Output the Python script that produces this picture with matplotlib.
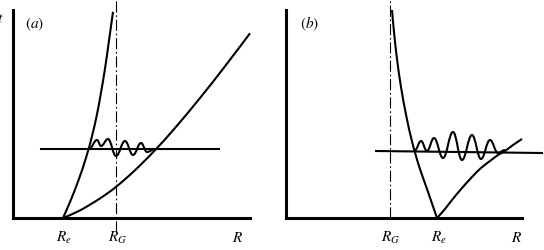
import matplotlib
matplotlib.use("Agg")
import matplotlib.pyplot as plt
from matplotlib.path import Path
from matplotlib.patches import PathPatch

plt.rcParams["mathtext.fontset"] = "stix"
plt.rcParams["font.family"] = "STIXGeneral"

# schematic values (x = R, y = energy, arbitrary units)
# panel (a)
a_steep_x = [50, 58, 66, 73, 79, 84, 88, 92, 96, 100]
a_steep_y = [0, 18.4, 39.2, 60.2, 81.8, 103.8, 125.4, 149.4, 177.4, 206.2]
a_low_x = [50, 67, 87, 103, 122, 142, 162, 187, 212, 237]
a_low_y = [0, 7.6, 19.6, 31.1, 47.8, 67.8, 90, 120, 151.7, 184.7]
a_level_x = [28, 206]
a_level_y = [69, 69]
# wave: start, turning points, end
a_wave_x = [76, 84, 88, 95, 103, 112, 120, 128, 134, 142]
a_wave_y = [69, 78, 72, 79, 62, 77, 63, 75, 66, 69]
a_RG = 102.5
a_ticks = [51, 105, 225]
a_labels = [r"$R_e$", r"$R_G$", r"$R$"]

# panel (b)
b_steep_x = [106, 108, 111, 115, 120, 126, 133, 141, 151]
b_steep_y = [208, 186, 159, 131, 103.5, 76.5, 52, 29, 0]
b_right_x = [151, 159, 166, 176, 186, 195, 204, 212, 219, 227, 236]
b_right_y = [0, 9, 18, 30, 41, 50, 57, 63, 67, 73, 79]
b_level_x = [90, 256]
b_level_y = [67, 65]
b_wave_x = [129, 135, 141, 148, 157, 167, 176, 186, 195, 204, 212, 219]
b_wave_y = [68, 77, 67, 80, 60, 86, 58, 83, 59, 78, 65, 68]
b_RG = 104
b_ticks = [105, 153, 231]
b_labels = [r"$R_G$", r"$R_e$", r"$R$"]

W, H = 544, 250
fig = plt.figure(figsize=(W / 100, H / 100), dpi=100)

axes_lw = 2.2
curve_lw = 1.5


def smooth(ax, xs, ys, flat=False):
    # cubic bezier through the points; flat=True keeps tangents horizontal
    verts = [(xs[0], ys[0])]
    codes = [Path.MOVETO]
    n = len(xs)
    for i in range(n - 1):
        x0, y0, x1, y1 = xs[i], ys[i], xs[i + 1], ys[i + 1]
        if flat:
            k = 0.4 * (x1 - x0)
            c1, c2 = (x0 + k, y0), (x1 - k, y1)
        else:
            xp, yp = (xs[i - 1], ys[i - 1]) if i > 0 else (x0, y0)
            xn, yn = (xs[i + 2], ys[i + 2]) if i + 2 < n else (x1, y1)
            c1 = (x0 + (x1 - xp) / 6, y0 + (y1 - yp) / 6)
            c2 = (x1 - (xn - x0) / 6, y1 - (yn - y0) / 6)
        verts += [c1, c2, (x1, y1)]
        codes += [Path.CURVE4] * 3
    ax.add_patch(PathPatch(Path(verts, codes), fill=False, lw=curve_lw,
                           edgecolor="black", clip_on=False, joinstyle="round"))


def make_axes(left_px, width_px):
    ax = fig.add_axes([left_px / W, (H - 218) / H, width_px / W, 218 / H])
    ax.set_xlim(0, width_px)
    ax.set_ylim(0, 218)
    for s in ["top", "right"]:
        ax.spines[s].set_visible(False)
    ax.spines["left"].set_linewidth(axes_lw)
    ax.spines["bottom"].set_linewidth(axes_lw)
    ax.spines["left"].set_bounds(0, 208)
    ax.set_xticks([])
    ax.set_yticks([])
    ax.patch.set_alpha(0)
    return ax


def panel(ax, curves, level_x, level_y, wave_x, wave_y, rg, y0, ticks, labels, tag):
    for cx, cy in curves:
        smooth(ax, cx, cy)
    ax.plot(level_x, level_y, color="black", lw=curve_lw, clip_on=False)
    smooth(ax, wave_x, wave_y, flat=True)
    ax.plot([rg, rg], [y0, 218], color="black", lw=0.8, clip_on=False,
            dashes=(10, 2.5, 1.5, 2.5))
    for t, lab in zip(ticks, labels):
        ax.text(t, -20, lab, ha="center", va="center", fontsize=11, clip_on=False)
    ax.text(tag[0], tag[1], tag[2], ha="center", va="center", fontsize=11)


ax1 = make_axes(13, 237)
panel(ax1, [(a_steep_x, a_steep_y), (a_low_x, a_low_y)], a_level_x, a_level_y,
      a_wave_x, a_wave_y, a_RG, -14, a_ticks, a_labels, (22, 194, r"$(a)$"))

ax2 = make_axes(286, 236)
panel(ax2, [(b_steep_x, b_steep_y), (b_right_x, b_right_y)], b_level_x, b_level_y,
      b_wave_x, b_wave_y, b_RG, 0, b_ticks, b_labels, (24, 194, r"$(b)$"))

# label cut off at the left edge, as in the reference
fig.text(4 / W, 1 - 19 / H, r"$t$", ha="right", va="center", fontsize=11)

fig.savefig("out.png", dpi=100)
